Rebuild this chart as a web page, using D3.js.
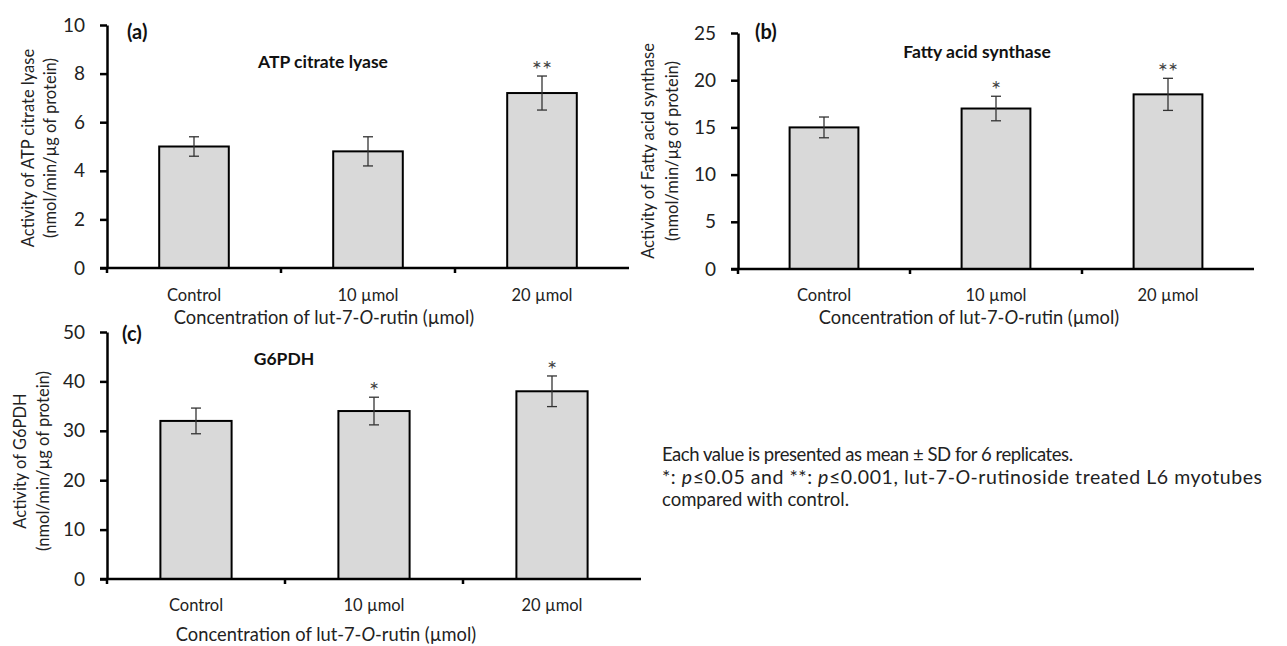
<!DOCTYPE html>
<html>
<head>
<meta charset="utf-8">
<script src="https://cdn.jsdelivr.net/npm/d3@7"></script>
<style>
  body { margin: 0; background: #fff; }
  svg { display: block; font-family: Lato, "Open Sans", sans-serif; }
</style>
</head>
<body>
<div id="chart"></div>
<script>
// categories shared by the three panels
var categories = ["Control", "10 \u00b5mol", "20 \u00b5mol"];

// (a) ATP citrate lyase
var atpMeans = [5.0, 4.8, 7.2];
var atpSD = [0.4, 0.6, 0.7];
var atpSig = ["", "", "**"];
var atpTicks = [0, 2, 4, 6, 8, 10];

// (b) Fatty acid synthase
var fasMeans = [15.0, 17.0, 18.5];
var fasSD = [1.1, 1.3, 1.7];
var fasSig = ["", "*", "**"];
var fasTicks = [0, 5, 10, 15, 20, 25];

// (c) G6PDH
var g6Means = [32, 34, 38];
var g6SD = [2.6, 2.8, 3.1];
var g6Sig = ["", "*", "*"];
var g6Ticks = [0, 10, 20, 30, 40, 50];

var footnote = [
    "Each value is presented as mean \u00b1 SD for 6 replicates.",
    "*: p\u22640.05 and **: p\u22640.001, lut-7-O-rutinoside treated L6 myotubes",
    "compared with control."
];

var W = 1287, H = 646;

var svg = d3.select("#chart").append("svg")
    .attr("width", W)
    .attr("height", H);

// panel layout (positions only)
var panels = [
    { tag: "(a)", title: "ATP citrate lyase", means: atpMeans, sd: atpSD, sig: atpSig, ticks: atpTicks,
      ylab: ["Activity of ATP citrate lyase", "(nmol/min/\u00b5g of protein)"],
      x0: 107, x1: 629, yTop: 25, yBot: 268, tagX: 127, tagY: 39, titleX: 323, titleY: 68,
      labX: [28, 50], labY: 148, xTitleX: 324, catY: 301, xTitleY: 324 },
    { tag: "(b)", title: "Fatty acid synthase", means: fasMeans, sd: fasSD, sig: fasSig, ticks: fasTicks,
      ylab: ["Activity of Fatty acid synthase", "(nmol/min/\u00b5g of protein)"],
      x0: 738, x1: 1254, yTop: 33, yBot: 269, tagX: 755, tagY: 39, titleX: 977, titleY: 58,
      labX: [648, 672], labY: 151, xTitleX: 969, catY: 301, xTitleY: 324 },
    { tag: "(c)", title: "G6PDH", means: g6Means, sd: g6SD, sig: g6Sig, ticks: g6Ticks,
      ylab: ["Activity of G6PDH", "(nmol/min/\u00b5g of protein)"],
      x0: 107, x1: 641, yTop: 332, yBot: 579, tagX: 122, tagY: 341, titleX: 284, titleY: 365,
      labX: [20, 43], labY: 461, xTitleX: 326, catY: 611, xTitleY: 641 }
];

panels.forEach(drawPanel);

function drawPanel(p) {
    var g = svg.append("g");
    var maxV = p.ticks[p.ticks.length - 1];

    var x = d3.scaleBand()
        .domain(categories)
        .range([p.x0, p.x1])
        .paddingInner(0.6)
        .paddingOuter(0.3);

    var y = d3.scaleLinear()
        .domain([0, maxV])
        .range([p.yBot, p.yTop]);

    // bars
    g.selectAll(".bar")
        .data(p.means)
        .enter().append("rect")
        .attr("x", function(d, i) { return x(categories[i]); })
        .attr("y", function(d) { return y(d); })
        .attr("width", x.bandwidth())
        .attr("height", function(d) { return y(0) - y(d); })
        .style("fill", "#d9d9d9")
        .style("stroke", "#000")
        .style("stroke-width", 2);

    // error bars
    var err = g.selectAll(".err")
        .data(p.means)
        .enter().append("g")
        .attr("transform", function(d, i) {
            return "translate(" + (x(categories[i]) + x.bandwidth() / 2) + ",0)";
        });
    err.append("line")
        .attr("y1", function(d, i) { return y(d + p.sd[i]); })
        .attr("y2", function(d, i) { return y(d - p.sd[i]); });
    err.append("line")
        .attr("x1", -5).attr("x2", 5)
        .attr("y1", function(d, i) { return y(d + p.sd[i]); })
        .attr("y2", function(d, i) { return y(d + p.sd[i]); });
    err.append("line")
        .attr("x1", -5).attr("x2", 5)
        .attr("y1", function(d, i) { return y(d - p.sd[i]); })
        .attr("y2", function(d, i) { return y(d - p.sd[i]); });
    err.selectAll("line")
        .style("stroke", "#333")
        .style("stroke-width", 1.3);

    // significance stars
    err.append("text")
        .attr("y", function(d, i) { return y(d + p.sd[i]) + 2; })
        .attr("text-anchor", "middle")
        .style("font-size", "24px")
        .style("fill", "#444")
        .text(function(d, i) { return p.sig[i]; });

    // y axis
    var yAxis = g.append("g")
        .attr("transform", "translate(" + p.x0 + ",0)")
        .call(d3.axisLeft(y).tickValues(p.ticks).tickSize(7).tickSizeOuter(0).tickPadding(15));
    yAxis.select(".domain").style("stroke", "#000").style("stroke-width", 2.5);
    yAxis.selectAll(".tick line").style("stroke", "#000").style("stroke-width", 2.5);
    yAxis.selectAll(".tick text")
        .style("font-family", "Lato, sans-serif")
        .style("font-size", "19px")
        .style("fill", "#222");

    // x axis: baseline plus boundary ticks
    g.append("line")
        .attr("x1", p.x0 - 7).attr("x2", p.x1)
        .attr("y1", y(0)).attr("y2", y(0))
        .style("stroke", "#000").style("stroke-width", 2.5);
    var bounds = d3.range(categories.length).map(function(i) { return x.step() * i; });
    g.selectAll(".xtick")
        .data(bounds)
        .enter().append("line")
        .attr("x1", function(d) { return p.x0 + d; })
        .attr("x2", function(d) { return p.x0 + d; })
        .attr("y1", y(0))
        .attr("y2", y(0) + 5)
        .style("stroke", "#000").style("stroke-width", 2.5);

    // category labels
    g.selectAll(".cat")
        .data(categories)
        .enter().append("text")
        .attr("x", function(d) { return x(d) + x.bandwidth() / 2; })
        .attr("y", p.catY)
        .attr("text-anchor", "middle")
        .style("font-size", "16.5px")
        .style("fill", "#222")
        .text(function(d) { return d; });

    // x axis title
    var xt = g.append("text")
        .attr("x", p.xTitleX)
        .attr("y", p.xTitleY)
        .attr("text-anchor", "middle")
        .style("font-size", "18.3px")
        .style("fill", "#222");
    xt.append("tspan").text("Concentration of lut-7-");
    xt.append("tspan").style("font-style", "italic").text("O");
    xt.append("tspan").text("-rutin (\u00b5mol)");

    // y axis title (two lines)
    p.ylab.forEach(function(t, i) {
        g.append("text")
            .attr("transform", "translate(" + p.labX[i] + "," + p.labY + ") rotate(-90)")
            .attr("text-anchor", "middle")
            .attr("dy", "0.35em")
            .style("font-size", "16.5px")
            .style("fill", "#222")
            .text(t);
    });

    // panel tag and title
    g.append("text")
        .attr("x", p.tagX)
        .attr("y", p.tagY)
        .style("font-size", "20px")
        .style("font-weight", "bold")
        .style("fill", "#111")
        .text(p.tag);
    g.append("text")
        .attr("x", p.titleX)
        .attr("y", p.titleY)
        .attr("text-anchor", "middle")
        .style("font-size", "17.5px")
        .style("font-weight", "bold")
        .style("fill", "#111")
        .text(p.title);
}

// footnote
var fn = svg.append("g").attr("transform", "translate(662,0)")
    .style("font-size", "18.5px")
    .style("fill", "#222");
fn.append("text").attr("y", 461).attr("textLength", 411).attr("lengthAdjust", "spacing").text(footnote[0]);
var l2 = fn.append("text").attr("y", 484).style("font-size", "19.5px")
    .attr("textLength", 600).attr("lengthAdjust", "spacing");
l2.append("tspan").text("*: ");
l2.append("tspan").style("font-style", "italic").text("p");
l2.append("tspan").text("\u22640.05 and **: ");
l2.append("tspan").style("font-style", "italic").text("p");
l2.append("tspan").text("\u22640.001, lut-7-");
l2.append("tspan").style("font-style", "italic").text("O");
l2.append("tspan").text("-rutinoside treated L6 myotubes");
fn.append("text").attr("y", 506).text(footnote[2]);
</script>
</body>
</html>
